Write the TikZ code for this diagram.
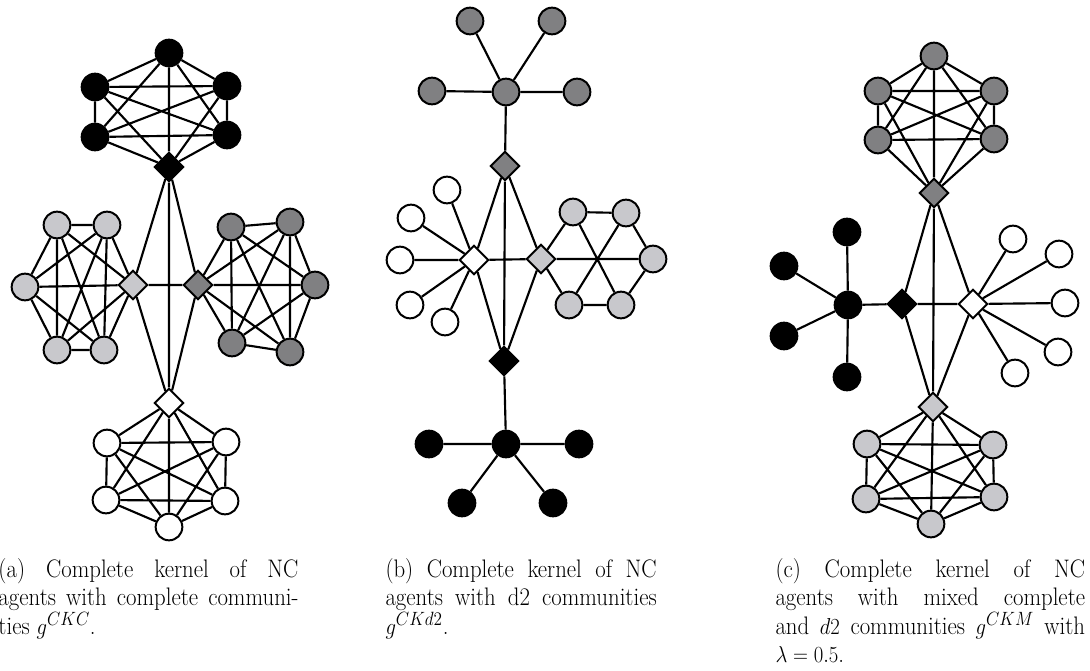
\documentclass[tikz,border=0pt]{standalone}
\usetikzlibrary{shapes.geometric}

\definecolor{lightgr}{RGB}{200,200,204}
\definecolor{darkgr}{RGB}{128,128,130}

\tikzset{every picture/.style={line width=0.75pt}}
\tikzset{
  agentdot/.style={circle, draw=black, line width=1.5pt, minimum size=20pt, inner sep=0pt},
  kerneldia/.style={diamond, aspect=1, draw=black, line width=1.5pt, minimum size=22pt, inner sep=0pt},
  edgeline/.style={line width=1.6pt},
  captext/.style={anchor=base west, inner sep=0pt}
}
% justified caption line and last caption line
\newcommand{\capline}[2]{\scalebox{0.9}[1]{\fontsize{19}{23}\selectfont\makebox[#1][s]{#2}}}
\newcommand{\caplast}[1]{\scalebox{0.9}[1]{\fontsize{19}{23}\selectfont #1}}

\begin{document}
\begin{tikzpicture}[x=0.75pt,y=0.75pt,yscale=-1,xscale=1]
\useasboundingbox (0,0) rectangle (1090,671);

%%% (a) complete kernel, complete communities
% Kernel diamonds
\node[kerneldia, fill=black] (ak1) at (169,167) {};
\node[kerneldia, fill=lightgr] (ak2) at (133,285) {};
\node[kerneldia, fill=darkgr] (ak3) at (198,285) {};
\node[kerneldia, fill=white] (ak4) at (169,403) {};
% Top community
\node[agentdot, fill=black] (at1) at (169,53) {};
\node[agentdot, fill=black] (at2) at (95,87) {};
\node[agentdot, fill=black] (at3) at (227,86) {};
\node[agentdot, fill=black] (at4) at (95,137) {};
\node[agentdot, fill=black] (at5) at (227,135) {};
% Left community
\node[agentdot, fill=lightgr] (al1) at (57,225) {};
\node[agentdot, fill=lightgr] (al2) at (107,225) {};
\node[agentdot, fill=lightgr] (al3) at (25,287) {};
\node[agentdot, fill=lightgr] (al4) at (57,350) {};
\node[agentdot, fill=lightgr] (al5) at (104,350) {};
% Right community
\node[agentdot, fill=darkgr] (ar1) at (231,227) {};
\node[agentdot, fill=darkgr] (ar2) at (290,222) {};
\node[agentdot, fill=darkgr] (ar3) at (315,285) {};
\node[agentdot, fill=darkgr] (ar4) at (232,343) {};
\node[agentdot, fill=darkgr] (ar5) at (290,352) {};
% Bottom community
\node[agentdot, fill=white] (ab1) at (107,443) {};
\node[agentdot, fill=white] (ab2) at (226,442) {};
\node[agentdot, fill=white] (ab3) at (106,500) {};
\node[agentdot, fill=white] (ab4) at (225,501) {};
\node[agentdot, fill=white] (ab5) at (169,527) {};

% Connection
\draw[edgeline] (ak1) -- (ak2) (ak1) -- (ak3) (ak1) -- (ak4) (ak2) -- (ak3) (ak2) -- (ak4) (ak3) -- (ak4);
\draw[edgeline] (at1) -- (at2) (at1) -- (at3) (at1) -- (at4) (at1) -- (at5) (at1) -- (ak1)
  (at2) -- (at3) (at2) -- (at4) (at2) -- (at5) (at2) -- (ak1)
  (at3) -- (at4) (at3) -- (at5) (at3) -- (ak1)
  (at4) -- (at5) (at4) -- (ak1) (at5) -- (ak1);
\draw[edgeline] (al1) -- (al2) (al1) -- (al3) (al1) -- (al4) (al1) -- (al5) (al1) -- (ak2)
  (al2) -- (al3) (al2) -- (al4) (al2) -- (al5) (al2) -- (ak2)
  (al3) -- (al4) (al3) -- (al5) (al3) -- (ak2)
  (al4) -- (al5) (al4) -- (ak2) (al5) -- (ak2);
\draw[edgeline] (ar1) -- (ar2) (ar1) -- (ar3) (ar1) -- (ar4) (ar1) -- (ar5) (ar1) -- (ak3)
  (ar2) -- (ar3) (ar2) -- (ar4) (ar2) -- (ar5) (ar2) -- (ak3)
  (ar3) -- (ar4) (ar3) -- (ar5) (ar3) -- (ak3)
  (ar4) -- (ar5) (ar4) -- (ak3) (ar5) -- (ak3);
\draw[edgeline] (ab1) -- (ab2) (ab1) -- (ab3) (ab1) -- (ab4) (ab1) -- (ab5) (ab1) -- (ak4)
  (ab2) -- (ab3) (ab2) -- (ab4) (ab2) -- (ab5) (ab2) -- (ak4)
  (ab3) -- (ab4) (ab3) -- (ab5) (ab3) -- (ak4)
  (ab4) -- (ab5) (ab4) -- (ak4) (ab5) -- (ak4);

%%% (b) complete kernel, d2 communities
% Kernel diamonds
\node[kerneldia, fill=darkgr] (bk1) at (505,166) {};
\node[kerneldia, fill=white] (bk2) at (474,260) {};
\node[kerneldia, fill=lightgr] (bk3) at (541,259) {};
\node[kerneldia, fill=black] (bk4) at (504,361) {};
% Top star
\node[agentdot, fill=darkgr] (bs0) at (506,92) {};
\node[agentdot, fill=darkgr] (bs1) at (470,21) {};
\node[agentdot, fill=darkgr] (bs2) at (552,21) {};
\node[agentdot, fill=darkgr] (bs3) at (432,91) {};
\node[agentdot, fill=darkgr] (bs4) at (577,92) {};
% Left star
\node[agentdot, fill=white] (bw1) at (447,190) {};
\node[agentdot, fill=white] (bw2) at (411,218) {};
\node[agentdot, fill=white] (bw3) at (400,260) {};
\node[agentdot, fill=white] (bw4) at (410,305) {};
\node[agentdot, fill=white] (bw5) at (445,322) {};
% Right community
\node[agentdot, fill=lightgr] (bl1) at (573,212) {};
\node[agentdot, fill=lightgr] (bl2) at (626,213) {};
\node[agentdot, fill=lightgr] (bl3) at (653,259) {};
\node[agentdot, fill=lightgr] (bl4) at (569,305) {};
\node[agentdot, fill=lightgr] (bl5) at (621,305) {};
% Bottom star
\node[agentdot, fill=black] (bb0) at (506,444) {};
\node[agentdot, fill=black] (bb1) at (429,444) {};
\node[agentdot, fill=black] (bb2) at (579,444) {};
\node[agentdot, fill=black] (bb3) at (462,503) {};
\node[agentdot, fill=black] (bb4) at (553,503) {};

% Connection
\draw[edgeline] (bk1) -- (bk2) (bk1) -- (bk3) (bk1) -- (bk4) (bk2) -- (bk3) (bk2) -- (bk4) (bk3) -- (bk4);
\draw[edgeline] (bs0) -- (bs1) (bs0) -- (bs2) (bs0) -- (bs3) (bs0) -- (bs4) (bs0) -- (bk1);
\draw[edgeline] (bk2) -- (bw1) (bk2) -- (bw2) (bk2) -- (bw3) (bk2) -- (bw4) (bk2) -- (bw5);
\draw[edgeline] (bk3) -- (bl1) (bl1) -- (bl2) (bl2) -- (bl3) (bl3) -- (bl5) (bl5) -- (bl4) (bl4) -- (bk3)
  (bk3) -- (bl3) (bl1) -- (bl5) (bl2) -- (bl4);
\draw[edgeline] (bb0) -- (bb1) (bb0) -- (bb2) (bb0) -- (bb3) (bb0) -- (bb4) (bb0) -- (bk4);

%%% (c) complete kernel, mixed communities
% Kernel diamonds
\node[kerneldia, fill=darkgr] (ck1) at (934,193) {};
\node[kerneldia, fill=black] (ck2) at (902,304) {};
\node[kerneldia, fill=white] (ck3) at (973,304) {};
\node[kerneldia, fill=lightgr] (ck4) at (933,407) {};
% Top community
\node[agentdot, fill=darkgr] (ct1) at (934,56) {};
\node[agentdot, fill=darkgr] (ct2) at (878,91) {};
\node[agentdot, fill=darkgr] (ct3) at (994,91) {};
\node[agentdot, fill=darkgr] (ct4) at (878,140) {};
\node[agentdot, fill=darkgr] (ct5) at (994,139) {};
% Left star
\node[agentdot, fill=black] (cb0) at (848,305) {};
\node[agentdot, fill=black] (cb1) at (847,232) {};
\node[agentdot, fill=black] (cb2) at (784,266) {};
\node[agentdot, fill=black] (cb3) at (784,336) {};
\node[agentdot, fill=black] (cb4) at (847,377) {};
% Right star
\node[agentdot, fill=white] (cw1) at (1013,239) {};
\node[agentdot, fill=white] (cw2) at (1059,254) {};
\node[agentdot, fill=white] (cw3) at (1065,303) {};
\node[agentdot, fill=white] (cw4) at (1058,352) {};
\node[agentdot, fill=white] (cw5) at (1015,373) {};
% Bottom community
\node[agentdot, fill=lightgr] (cl1) at (867,444) {};
\node[agentdot, fill=lightgr] (cl2) at (993,445) {};
\node[agentdot, fill=lightgr] (cl3) at (866,499) {};
\node[agentdot, fill=lightgr] (cl4) at (994,497) {};
\node[agentdot, fill=lightgr] (cl5) at (931,524) {};

% Connection
\draw[edgeline] (ck1) -- (ck2) (ck1) -- (ck3) (ck1) -- (ck4) (ck2) -- (ck3) (ck2) -- (ck4) (ck3) -- (ck4);
\draw[edgeline] (ct1) -- (ct2) (ct1) -- (ct3) (ct1) -- (ct4) (ct1) -- (ct5) (ct1) -- (ck1)
  (ct2) -- (ct3) (ct2) -- (ct4) (ct2) -- (ct5) (ct2) -- (ck1)
  (ct3) -- (ct4) (ct3) -- (ct5) (ct3) -- (ck1)
  (ct4) -- (ct5) (ct4) -- (ck1) (ct5) -- (ck1);
\draw[edgeline] (cb0) -- (cb1) (cb0) -- (cb2) (cb0) -- (cb3) (cb0) -- (cb4) (cb0) -- (ck2);
\draw[edgeline] (ck3) -- (cw1) (ck3) -- (cw2) (ck3) -- (cw3) (ck3) -- (cw4) (ck3) -- (cw5);
\draw[edgeline] (cl1) -- (cl2) (cl1) -- (cl3) (cl1) -- (cl4) (cl1) -- (cl5) (cl1) -- (ck4)
  (cl2) -- (cl3) (cl2) -- (cl4) (cl2) -- (cl5) (cl2) -- (ck4)
  (cl3) -- (cl4) (cl3) -- (cl5) (cl3) -- (ck4)
  (cl4) -- (cl5) (cl4) -- (ck4) (cl5) -- (ck4);

% Text Node
\node[captext] (capa1) at (-2,577) {\capline{250pt}{(a) Complete kernel of NC}};
\node[captext] (capa2) at (-2,605.5) {\capline{250pt}{agents with complete communi-}};
\node[captext] (capa3) at (-2,634) {\caplast{ties $g^{CKC}$.}};
% Text Node
\node[captext] (capb1) at (385,577) {\capline{226pt}{(b) Complete kernel of NC}};
\node[captext] (capb2) at (385,605.5) {\capline{226pt}{agents with d2 communities}};
\node[captext] (capb3) at (385,634) {\caplast{$g^{CKd2}$.}};
% Text Node
\node[captext] (capc1) at (775,577) {\capline{258pt}{(c) Complete kernel of NC}};
\node[captext] (capc2) at (775,605.5) {\capline{258pt}{agents with mixed complete}};
\node[captext] (capc3) at (775,634) {\capline{258pt}{and $d2$ communities $g^{CKM}$ with}};
\node[captext] (capc4) at (775,662.5) {\caplast{$\lambda = 0.5$.}};

\end{tikzpicture}
\end{document}
